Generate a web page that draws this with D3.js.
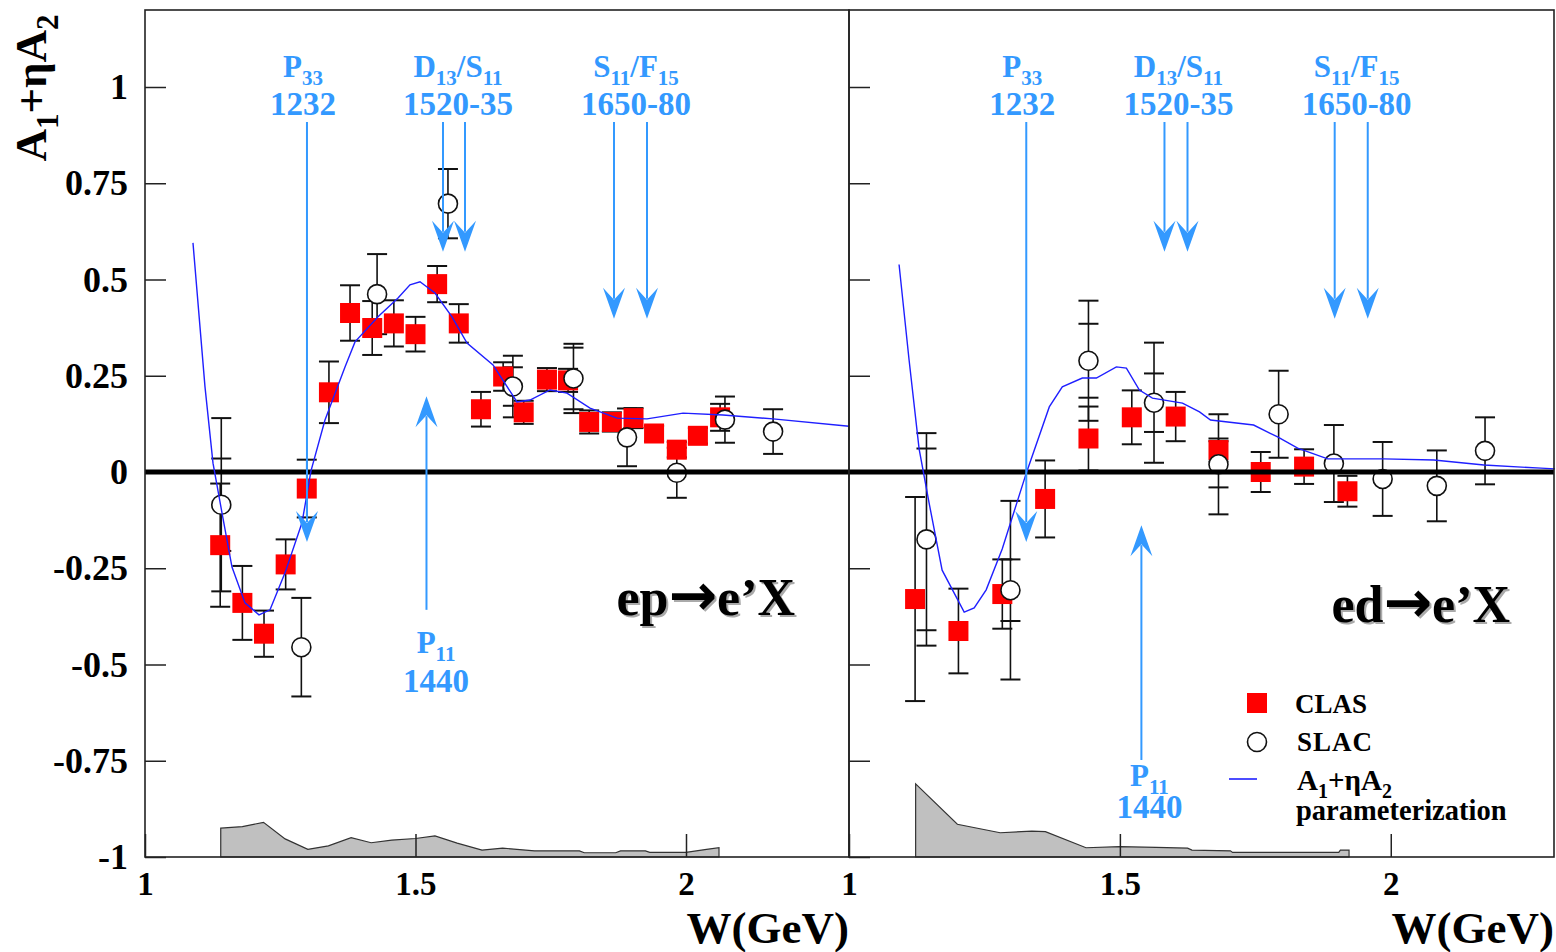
<!DOCTYPE html>
<html>
<head>
<meta charset="utf-8">
<script src="https://cdn.jsdelivr.net/npm/d3@7"></script>
<style>
  body { margin: 0; background: #fff; }
  svg { display: block; }
  text { font-family: "Liberation Serif", "Times New Roman", serif; font-weight: bold; }
</style>
</head>
<body>
<div id="chart"></div>
<script>
/* Axis ticks */
var wTicks = [1, 1.5, 2];
var aTicks = [-1, -0.75, -0.5, -0.25, 0, 0.25, 0.5, 0.75, 1];
var aTickLabels = ["-1", "-0.75", "-0.5", "-0.25", "0", "0.25", "0.5", "0.75", "1"];

/* ep -> e'X : CLAS */
var epClasW   = [1.139, 1.180, 1.220, 1.260, 1.299, 1.340, 1.379, 1.420, 1.460, 1.500, 1.540, 1.580,
                 1.621, 1.662, 1.700, 1.743, 1.782, 1.821, 1.863, 1.903, 1.941, 1.983, 2.022, 2.063];
var epClasA   = [-0.19, -0.34, -0.42, -0.24, -0.043, 0.207, 0.413, 0.374, 0.386, 0.358, 0.488, 0.386,
                 0.163, 0.248, 0.155, 0.240, 0.238, 0.130, 0.130, 0.140, 0.100, 0.058, 0.094, 0.142];
var epClasErr = [0.16, 0.096, 0.06, 0.065, 0.075, 0.08, 0.072, 0.07, 0.06, 0.045, 0.047, 0.05,
                 0.045, 0.037, 0.03, 0.03, 0.03, 0.03, 0.025, 0.026, 0.02, 0.02, 0.02, 0.035];
/* ep -> e'X : SLAC */
var epSlacW     = [1.141, 1.289, 1.429, 1.560, 1.680, 1.792, 1.891, 1.983, 2.072, 2.161];
var epSlacA     = [-0.085, -0.455, 0.462, 0.697, 0.222, 0.243, 0.090, -0.002, 0.136, 0.105];
var epSlacErr   = [0.225, 0.128, 0.104, 0.09, 0.08, 0.09, 0.075, 0.065, 0.06, 0.058];
var epSlacErrIn = [0.12, 0, 0, 0, 0.05, 0.08, 0, 0, 0, 0];
/* ep -> e'X : parameterization */
var epCurveW = [1.0887, 1.1109, 1.1257, 1.1423, 1.1608, 1.1848, 1.2107, 1.2311, 1.2588, 1.2902, 1.3068,
                1.3327, 1.3697, 1.3882, 1.4307, 1.4677, 1.4898, 1.5083, 1.5360, 1.5675, 1.5952, 1.6433,
                1.6876, 1.7116, 1.7486, 1.7800, 1.8226, 1.8725, 1.9279, 1.9945, 2.0684, 2.1608, 2.3013];
var epCurveA = [0.595, 0.221, 0.023, -0.106, -0.247, -0.340, -0.371, -0.358, -0.262, -0.132, 0.003,
                0.135, 0.273, 0.338, 0.403, 0.452, 0.486, 0.494, 0.465, 0.403, 0.335, 0.278,
                0.182, 0.187, 0.213, 0.205, 0.166, 0.140, 0.138, 0.153, 0.148, 0.138, 0.119];
/* ep -> e'X : systematic band */
var epSysW = [1.140, 1.180, 1.219, 1.259, 1.301, 1.339, 1.381, 1.418, 1.456, 1.500, 1.536, 1.577,
              1.623, 1.661, 1.720, 1.803, 1.812, 1.870, 1.879, 1.925, 1.933, 2.000, 2.038, 2.061];
var epSysH = [0.075, 0.079, 0.090, 0.047, 0.020, 0.029, 0.050, 0.037, 0.044, 0.048, 0.055, 0.036,
              0.018, 0.023, 0.016, 0.016, 0.011, 0.011, 0.016, 0.016, 0.012, 0.012, 0.020, 0.024];

/* ed -> e'X : CLAS */
var edClasW   = [1.122, 1.202, 1.283, 1.362, 1.442, 1.522, 1.603, 1.682, 1.760, 1.840, 1.920];
var edClasA   = [-0.33, -0.413, -0.317, -0.07, 0.087, 0.142, 0.144, 0.057, 0.000, 0.014, -0.05];
var edClasErr = [0.265, 0.11, 0.09, 0.1, 0.083, 0.07, 0.064, 0.03, 0.052, 0.045, 0.04];
/* ed -> e'X : SLAC */
var edSlacW     = [1.143, 1.298, 1.442, 1.563, 1.682, 1.793, 1.895, 1.985, 2.085, 2.174];
var edSlacA     = [-0.175, -0.307, 0.289, 0.180, 0.020, 0.150, 0.022, -0.018, -0.036, 0.055];
var edSlacErr   = [0.276, 0.232, 0.156, 0.156, 0.13, 0.113, 0.10, 0.096, 0.092, 0.087];
var edSlacErrIn = [0.236, 0.08, 0.096, 0.076, 0.06, 0, 0, 0, 0, 0];
/* ed -> e'X : parameterization */
var edCurveW = [1.0924, 1.1109, 1.1294, 1.1479, 1.1719, 1.2126, 1.2311, 1.2532, 1.2828, 1.3272, 1.3697,
                1.3937, 1.4307, 1.4566, 1.4935, 1.5120, 1.5360, 1.5601, 1.6155, 1.6470, 1.6673, 1.7468,
                1.7911, 1.8281, 1.8835, 1.9871, 2.0795, 2.1719, 2.2773, 2.3031];
var edCurveA = [0.539, 0.291, 0.060, -0.081, -0.255, -0.364, -0.353, -0.306, -0.200, -0.003, 0.169,
                0.221, 0.244, 0.244, 0.273, 0.270, 0.213, 0.192, 0.179, 0.156, 0.135, 0.122,
                0.091, 0.062, 0.034, 0.034, 0.031, 0.018, 0.010, 0.008];
/* ed -> e'X : systematic band */
var edSysW = [1.123, 1.200, 1.279, 1.3375, 1.3625, 1.4375, 1.500, 1.567, 1.625, 1.633, 1.704, 1.708,
              1.904, 1.907, 1.923];
var edSysH = [0.19, 0.085, 0.063, 0.067, 0.066, 0.024, 0.027, 0.025, 0.023, 0.018, 0.016, 0.012,
              0.012, 0.018, 0.018];

/* Resonance annotations */
var resNames  = [[["P"], ["33", 1]], [["D"], ["13", 1], ["/S"], ["11", 1]], [["S"], ["11", 1], ["/F"], ["15", 1]]];
var resMasses = ["1232", "1520-35", "1650-80"];
var resTipA   = [-0.182, 0.572, 0.398];
var epResLabelW = [1.292, 1.5786, 1.9076];
var epResArrowW = [[1.2994], [1.5508, 1.5915], [1.8669, 1.9279]];
var edResLabelW = [1.3198, 1.608, 1.937];
var edResArrowW = [[1.3272], [1.5823, 1.6248], [1.8965, 1.9575]];
var p11Name = [["P"], ["11", 1]];
var p11Mass = "1440";

/* Sizing and scales. */
var chartW = 1556, chartH = 952,
    plotTop = 10, plotBottom = 857,
    blue = "#3399ff", curveBlue = "#1f1fff";

var y = d3.scaleLinear().domain([-1, 1.2]).range([plotBottom, plotTop]);

var panels = [
  { range: [145, 849], labels: true, clasW: epClasW, clasA: epClasA, clasErr: epClasErr,
    slacW: epSlacW, slacA: epSlacA, slacErr: epSlacErr, slacErrIn: epSlacErrIn,
    curveW: epCurveW, curveA: epCurveA, sysW: epSysW, sysH: epSysH,
    resLabelW: epResLabelW, resArrowW: epResArrowW,
    p11: { w: 1.5203, tip: 0.197, tail: -0.358, labelW: 1.538, nameY: 653, massY: 692 },
    reaction: { a: "ep", b: "e\u2019X", x: 795, y: 615 } },
  { range: [849, 1554], labels: false, clasW: edClasW, clasA: edClasA, clasErr: edClasErr,
    slacW: edSlacW, slacA: edSlacA, slacErr: edSlacErr, slacErrIn: edSlacErrIn,
    curveW: edCurveW, curveA: edCurveA, sysW: edSysW, sysH: edSysH,
    resLabelW: edResLabelW, resArrowW: edResArrowW,
    p11: { w: 1.5397, tip: -0.138, tail: -0.748, labelW: 1.5545, nameY: 786, massY: 818 },
    reaction: { a: "ed", b: "e\u2019X", x: 1510, y: 622 } }
];

/* Text with subscripts; parts = [[text, isSub], ...] */
function richText(g, x, yy, parts, size, subSize, anchor, fill) {
  var t = g.append("text")
      .attr("x", x).attr("y", yy)
      .attr("text-anchor", anchor)
      .attr("font-size", size)
      .attr("fill", fill);
  var shift = 0, drop = Math.round(size * 0.27);
  parts.forEach(function(p) {
    var s = p[1] ? drop : 0;
    t.append("tspan")
      .attr("dy", s - shift)
      .attr("font-size", p[1] ? subSize : size)
      .text(p[0]);
    shift = s;
  });
  return t;
}

function arrowHead(x, yy, dir) {
  // dir = 1: pointing down, dir = -1: pointing up
  return "M" + x + "," + yy +
         "L" + (x - 11) + "," + (yy - 31 * dir) +
         "L" + x + "," + (yy - 19 * dir) +
         "L" + (x + 11) + "," + (yy - 31 * dir) + "Z";
}

function reactionText(g, r, dx, dy, fill) {
  var t = g.append("text")
    .attr("x", r.x + dx).attr("y", r.y + dy)
    .attr("text-anchor", "end")
    .attr("font-size", 52)
    .attr("fill", fill);
  t.append("tspan").text(r.a);
  t.append("tspan")
    .attr("font-family", "'DejaVu Sans', sans-serif")
    .attr("font-size", 58)
    .text("\u2192");
  t.append("tspan").text(r.b);
}

/* The root panel. */
var svg = d3.select("#chart").append("svg")
    .attr("width", chartW)
    .attr("height", chartH);

panels.forEach(function(p) {
  var x = d3.scaleLinear().domain([1, 2.3013]).range(p.range);
  var g = svg.append("g");

  /* Systematic band */
  var sys = p.sysW.map(function(w, i) { return [w, p.sysH[i]]; });
  g.append("path")
    .datum(sys)
    .attr("fill", "#c0c0c0")
    .attr("stroke", "#333")
    .attr("stroke-width", 1.2)
    .attr("d", d3.area()
      .x(function(d) { return x(d[0]); })
      .y0(y(-1))
      .y1(function(d) { return y(-1 + d[1]); }));

  /* Axes (inward ticks) */
  var left = g.append("g")
    .attr("transform", "translate(" + p.range[0] + ",0)")
    .call(d3.axisLeft(y).tickValues(aTicks).tickSize(-21).tickPadding(17)
      .tickFormat(function(d, i) { return p.labels ? aTickLabels[i] : ""; }));
  left.select(".domain").remove();
  left.selectAll("line").attr("stroke", "#222").attr("stroke-width", 1.5);
  left.selectAll("text")
    .attr("font-family", "'Liberation Serif', serif")
    .attr("font-weight", "bold")
    .attr("font-size", 36)
    .attr("fill", "#000");

  var bot = g.append("g")
    .attr("transform", "translate(0," + plotBottom + ")")
    .call(d3.axisBottom(x).tickValues(wTicks).tickSize(-23).tickPadding(15)
      .tickFormat(d3.format("")));
  bot.select(".domain").remove();
  bot.selectAll("line").attr("stroke", "#222").attr("stroke-width", 1.5);
  bot.selectAll("text")
    .attr("font-family", "'Liberation Serif', serif")
    .attr("font-weight", "bold")
    .attr("font-size", 33)
    .attr("fill", "#000");

  g.append("text")
    .attr("x", p.range[1]).attr("y", 943)
    .attr("text-anchor", "end")
    .attr("font-size", 45)
    .text("W(GeV)");

  /* Error bars */
  function errBars(ws, as, errs, errsIn) {
    ws.forEach(function(w, i) {
      var cx = x(w), a = as[i], e = errs[i];
      g.append("line")
        .attr("x1", cx).attr("x2", cx)
        .attr("y1", y(a + e)).attr("y2", y(a - e))
        .attr("stroke", "#111").attr("stroke-width", 1.6);
      var caps = [a + e, a - e];
      if (errsIn && errsIn[i] > 0) caps.push(a + errsIn[i], a - errsIn[i]);
      caps.forEach(function(c) {
        g.append("line")
          .attr("x1", cx - 10).attr("x2", cx + 10)
          .attr("y1", y(c)).attr("y2", y(c))
          .attr("stroke", "#111").attr("stroke-width", 2);
      });
    });
  }
  errBars(p.clasW, p.clasA, p.clasErr, null);
  errBars(p.slacW, p.slacA, p.slacErr, p.slacErrIn);

  /* CLAS squares */
  g.selectAll("rect.clas")
    .data(p.clasW.map(function(w, i) { return [w, p.clasA[i]]; }))
    .enter().append("rect")
    .attr("class", "clas")
    .attr("x", function(d) { return x(d[0]) - 10; })
    .attr("y", function(d) { return y(d[1]) - 10; })
    .attr("width", 20).attr("height", 20)
    .attr("fill", "#ff0000");

  /* SLAC circles */
  g.selectAll("circle.slac")
    .data(p.slacW.map(function(w, i) { return [w, p.slacA[i]]; }))
    .enter().append("circle")
    .attr("class", "slac")
    .attr("cx", function(d) { return x(d[0]); })
    .attr("cy", function(d) { return y(d[1]); })
    .attr("r", 9.5)
    .attr("fill", "#fff")
    .attr("stroke", "#111")
    .attr("stroke-width", 1.6);

  /* Zero line */
  g.append("line")
    .attr("x1", p.range[0]).attr("x2", p.range[1])
    .attr("y1", y(0)).attr("y2", y(0))
    .attr("stroke", "#000").attr("stroke-width", 5);

  /* Parameterization curve */
  g.append("path")
    .datum(p.curveW.map(function(w, i) { return [w, p.curveA[i]]; }))
    .attr("fill", "none")
    .attr("stroke", curveBlue)
    .attr("stroke-width", 1.4)
    .attr("d", d3.line()
      .x(function(d) { return x(d[0]); })
      .y(function(d) { return y(d[1]); }));

  /* Frame */
  g.append("rect")
    .attr("x", p.range[0]).attr("y", plotTop)
    .attr("width", p.range[1] - p.range[0]).attr("height", plotBottom - plotTop)
    .attr("fill", "none").attr("stroke", "#222").attr("stroke-width", 1.6);

  /* Resonance arrows and labels */
  var arrowTop = 122;
  p.resArrowW.forEach(function(ws, k) {
    ws.forEach(function(w) {
      var ax = x(w), tip = y(resTipA[k]);
      g.append("line")
        .attr("x1", ax).attr("x2", ax)
        .attr("y1", arrowTop).attr("y2", tip - 20)
        .attr("stroke", blue).attr("stroke-width", 2);
      g.append("path").attr("d", arrowHead(ax, tip, 1)).attr("fill", blue);
    });
    richText(g, x(p.resLabelW[k]), 77, resNames[k], 31, 21, "middle", blue);
    g.append("text")
      .attr("x", x(p.resLabelW[k])).attr("y", 115)
      .attr("text-anchor", "middle")
      .attr("font-size", 33)
      .attr("fill", blue)
      .text(resMasses[k]);
  });

  var px = x(p.p11.w), ptip = y(p.p11.tip);
  g.append("line")
    .attr("x1", px).attr("x2", px)
    .attr("y1", y(p.p11.tail)).attr("y2", ptip + 20)
    .attr("stroke", blue).attr("stroke-width", 2);
  g.append("path").attr("d", arrowHead(px, ptip, -1)).attr("fill", blue);
  richText(g, x(p.p11.labelW), p.p11.nameY, p11Name, 31, 21, "middle", blue);
  g.append("text")
    .attr("x", x(p.p11.labelW)).attr("y", p.p11.massY)
    .attr("text-anchor", "middle")
    .attr("font-size", 33)
    .attr("fill", blue)
    .text(p11Mass);

  /* Reaction label with shadow */
  reactionText(g, p.reaction, 2, 2, "#aaa");
  reactionText(g, p.reaction, 0, 0, "#000");
});

/* Y axis title */
richText(svg.append("g").attr("transform", "translate(46,88) rotate(-90)"),
  0, 0, [["A"], ["1", 1], ["+\u03b7A"], ["2", 1]], 45, 31, "middle", "#000");

/* Legend */
var legend = svg.append("g");
legend.append("rect")
  .attr("x", 1247).attr("y", 693).attr("width", 20).attr("height", 20)
  .attr("fill", "#ff0000");
legend.append("circle")
  .attr("cx", 1257).attr("cy", 742).attr("r", 9.5)
  .attr("fill", "#fff").attr("stroke", "#111").attr("stroke-width", 1.6);
legend.append("line")
  .attr("x1", 1229).attr("x2", 1257).attr("y1", 779).attr("y2", 779)
  .attr("stroke", curveBlue).attr("stroke-width", 1.6);
legend.append("text").attr("x", 1295).attr("y", 713).attr("font-size", 27).text("CLAS");
legend.append("text").attr("x", 1297).attr("y", 751).attr("font-size", 27)
  .attr("letter-spacing", 1).text("SLAC");
richText(legend, 1297, 790, [["A"], ["1", 1], ["+\u03b7A"], ["2", 1]], 29, 20, "start", "#000");
legend.append("text").attr("x", 1296).attr("y", 820).attr("font-size", 28.5).text("parameterization");
</script>
</body>
</html>
